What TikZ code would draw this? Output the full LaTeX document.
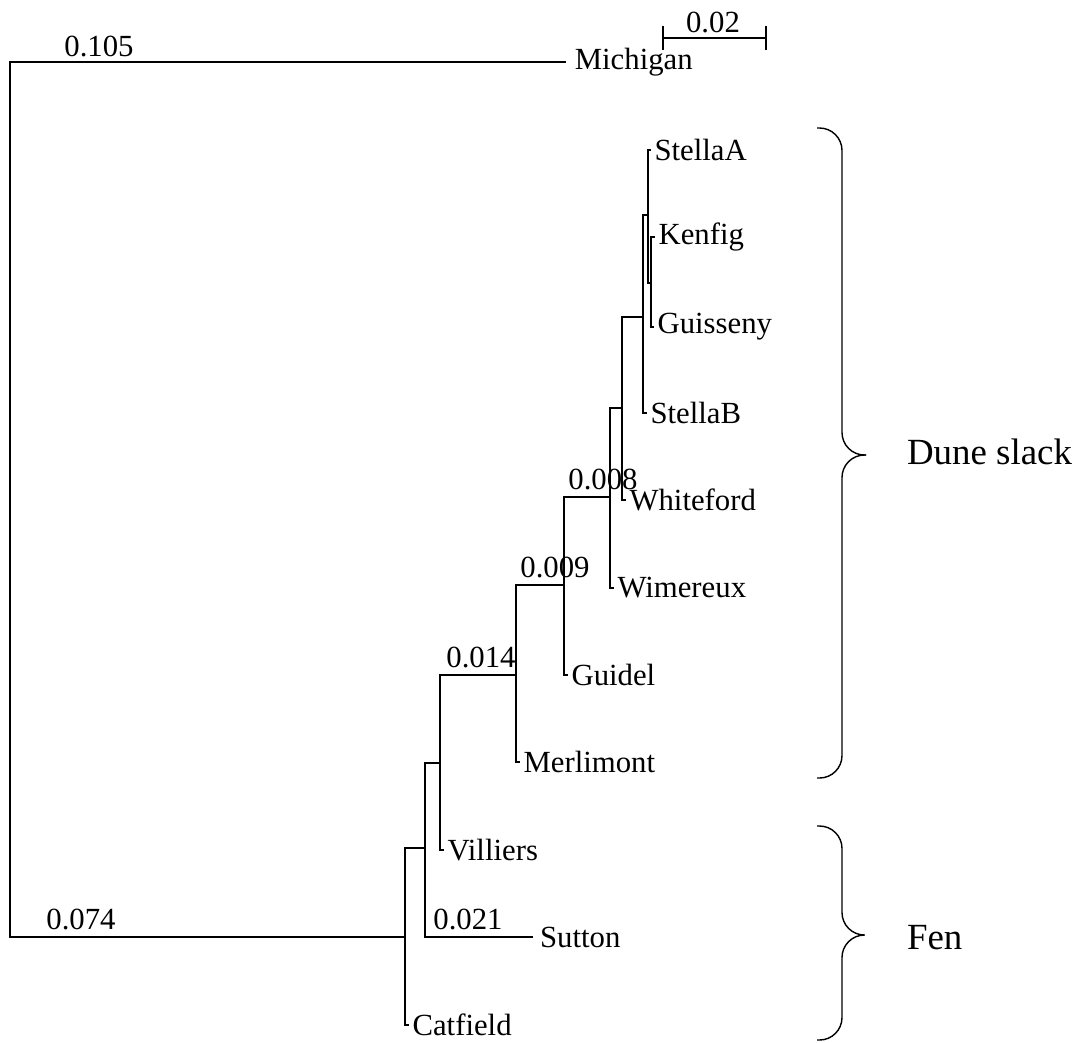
\documentclass[tikz,border=0pt]{standalone}
\usepackage{fontspec}
\setmainfont{Liberation Serif}
\usetikzlibrary{arrows.meta}
\tikzset{
  tree/.style={x=0.02cm,y=-0.02cm,line width=1.2pt,line cap=rect,
    every node/.style={font=\fontsize{17.5}{20}\selectfont,inner ysep=0pt}},
  leaf/.style={anchor=west,inner xsep=2pt},
  blen/.style={anchor=base,inner sep=0pt},
  brace/.style={line width=0.8pt,line cap=butt,rounded corners=0.45cm},
  group/.style={anchor=west,inner sep=0pt,font=\fontsize{21}{24}\selectfont},
}

\begin{document}
\begin{tikzpicture}[tree]
  \useasboundingbox (0,0) rectangle (1084,1042);
  % inner nodes of the tree
  \coordinate (r) at (10,62);
  \coordinate (a) at (405,937);
  \coordinate (b) at (425,848);
  \coordinate (c) at (440,763);
  \coordinate (d) at (516,675);
  \coordinate (e) at (564,585);
  \coordinate (f) at (610,497);
  \coordinate (g) at (622,408);
  \coordinate (h) at (643,317);
  \coordinate (i) at (648,215);
  \coordinate (j) at (651,283);
  % leaves
  \node[leaf,inner xsep=5pt] (michigan) at (565,62) {Michigan};
  \node[leaf] (stellaA) at (650,150) {StellaA};
  \node[leaf] (kenfig) at (654,237) {Kenfig};
  \node[leaf] (guisseny) at (653,327) {Guisseny};
  \node[leaf] (stellaB) at (646,413) {StellaB};
  \node[leaf] (whiteford) at (625,500) {Whiteford};
  \node[leaf] (wimereux) at (613,588) {Wimereux};
  \node[leaf] (guidel) at (567,675) {Guidel};
  \node[leaf] (merlimont) at (519,762) {Merlimont};
  \node[leaf] (villiers) at (443,850) {Villiers};
  \node[leaf,inner xsep=4pt] (sutton) at (532,937) {Sutton};
  \node[leaf] (catfield) at (408,1025) {Catfield};
  % branches
  \foreach \p/\q in {r/michigan.west,r/a,a/b,a/catfield.west,b/c,b/sutton.west,
      c/d,c/villiers.west,d/e,d/merlimont.west,e/f,e/guidel.west,f/g,
      f/wimereux.west,g/h,g/whiteford.west,h/i,h/stellaB.west,
      i/stellaA.west,i/j,j/kenfig.west,j/guisseny.west}
    \draw (\p) |- (\q);
  % branch lengths
  \node[blen] (l105) at (99,56) {0.105};
  \node[blen] (l074) at (81,929) {0.074};
  \node[blen] (l021) at (468,929) {0.021};
  \node[blen] (l014) at (481,667) {0.014};
  \node[blen] (l009) at (555,577) {0.009};
  \node[blen] (l008) at (603,489) {0.008};
  % scale bar
  \coordinate (s0) at (662,38);
  \coordinate (s1) at (767,38);
  \draw[{Bar[width=0.48cm]}-{Bar[width=0.48cm]},line cap=butt] (s0) -- (s1);
  \node[blen] (scale) at (713,32) {0.02};
  % groups
  \draw[brace] (817,128) -| (842,455) -- (866,455);
  \draw[brace] (866,455) -- (842,455) |- (817,778);
  \node[group] (dune) at (906,452) {Dune slack};
  \draw[brace] (817,826) -| (842,935) -- (864,935);
  \draw[brace] (864,935) -- (842,935) |- (817,1040);
  \node[group] (fen) at (906,938) {Fen};
\end{tikzpicture}
\end{document}
